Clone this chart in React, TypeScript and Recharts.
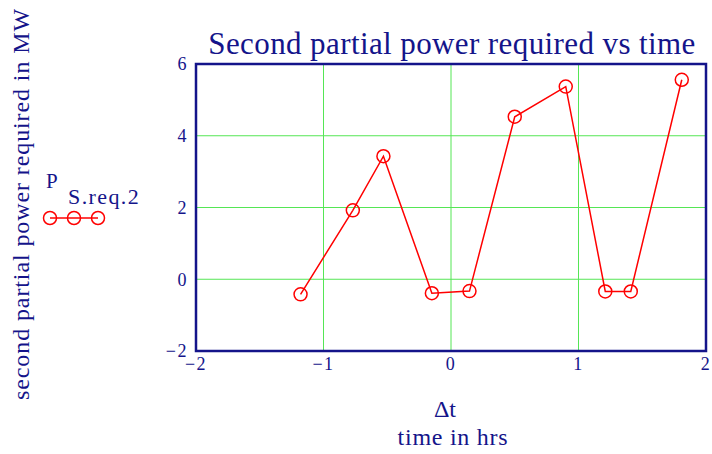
import React from 'react';
import { LineChart, Line, XAxis, YAxis, CartesianGrid, ReferenceArea } from 'recharts';

const timeHrs = [-1.18, -0.77, -0.53, -0.15, 0.145, 0.5, 0.9, 1.21, 1.41, 1.81];
const powerMW = [-0.42, 1.92, 3.43, -0.39, -0.33, 4.53, 5.37, -0.34, -0.34, 5.56];
const xTicks = [-2, -1, 0, 1, 2];
const yTicks = [-2, 0, 2, 4, 6];

const titleText = 'Second partial power required vs time';
const yLabel = 'second partial power required in MW';
const xLabel1 = '\u0394t';
const xLabel2 = 'time in hrs';
const legendMain = 'P';
const legendSub = 'S.req.2';

const data = timeHrs.map((t, i) => ({ t, p: powerMW[i] }));

const NAVY = '#14148a';
const FONT = '"Liberation Serif", "Times New Roman", serif';
const fmt = (v: number) => String(v).replace('-', '\u2212');

export default function App() {
  return (
    <div style={{ position: 'absolute', left: 0, top: 0, width: 712, height: 454, background: '#fff' }}>
      <LineChart
        width={712}
        height={454}
        data={data}
        margin={{ top: 64, right: 6, bottom: 73, left: 136 }}
        style={{ fontFamily: FONT }}
      >
        <CartesianGrid stroke="#55e655" strokeWidth={1} />
        <XAxis
          dataKey="t"
          type="number"
          domain={[-2, 2]}
          ticks={xTicks}
          tickFormatter={fmt}
          axisLine={false}
          tickLine={false}
          tickSize={0}
          tickMargin={6}
          height={30}
          tick={{ fill: NAVY, fontSize: 18, fontFamily: FONT, letterSpacing: 1.5 }}
        />
        <YAxis
          type="number"
          domain={[-2, 6]}
          ticks={yTicks}
          tickFormatter={fmt}
          axisLine={false}
          tickLine={false}
          tickSize={0}
          tickMargin={8}
          width={60}
          tick={{ fill: NAVY, fontSize: 18, fontFamily: FONT, letterSpacing: 1.5 }}
        />
        <ReferenceArea x1={-2} x2={2} y1={-2} y2={6} fill="none" fillOpacity={0} stroke={NAVY} strokeWidth={2.5} ifOverflow="visible" />
        <Line
          dataKey="p"
          stroke="#ff0000"
          strokeWidth={1.5}
          dot={{ r: 6.5, stroke: '#ff0000', strokeWidth: 1.5, fill: 'none' }}
          isAnimationActive={false}
        />
      </LineChart>
      <svg width={712} height={454} style={{ position: 'absolute', left: 0, top: 0, pointerEvents: 'none' }}>
        <text x={452} y={54} textAnchor="middle" fill={NAVY} fontSize={31} letterSpacing={0.4} fontFamily={FONT}>{titleText}</text>
        <text transform="translate(29,204) rotate(-90)" textAnchor="middle" fill={NAVY} fontSize={24} letterSpacing={0.9} fontFamily={FONT}>{yLabel}</text>
        <text x={445} y={417} textAnchor="middle" fill={NAVY} fontSize={24} fontFamily={FONT}>{xLabel1}</text>
        <text x={453} y={445} textAnchor="middle" fill={NAVY} fontSize={24} letterSpacing={0.75} fontFamily={FONT}>{xLabel2}</text>
        <text x={46} y={188} fill={NAVY} fontSize={21} fontFamily={FONT}>{legendMain}</text>
        <text x={68} y={204} fill={NAVY} fontSize={22} letterSpacing={1.4} fontFamily={FONT}>{legendSub}</text>
        <line x1={50} y1={218} x2={98} y2={218} stroke="#ff0000" strokeWidth={1.5} />
        <circle cx={50} cy={218} r={6.5} fill="none" stroke="#ff0000" strokeWidth={1.5} />
        <circle cx={74} cy={218} r={6.5} fill="none" stroke="#ff0000" strokeWidth={1.5} />
        <circle cx={98} cy={218} r={6.5} fill="none" stroke="#ff0000" strokeWidth={1.5} />
      </svg>
    </div>
  );
}
